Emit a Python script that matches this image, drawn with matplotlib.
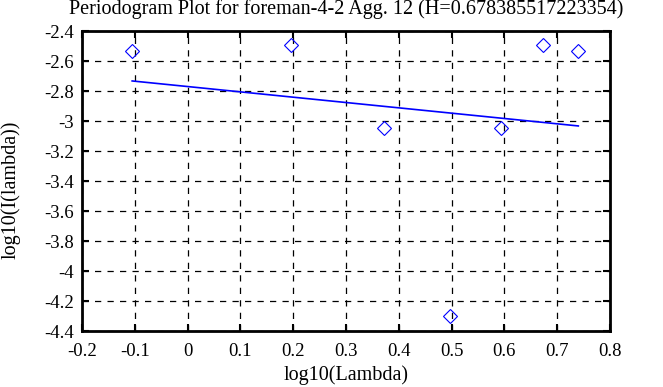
import matplotlib
matplotlib.use("Agg")
import matplotlib.pyplot as plt
from matplotlib.ticker import FuncFormatter, MultipleLocator

plt.rcParams['font.family'] = ['Liberation Serif', 'DejaVu Serif']
plt.rcParams['axes.unicode_minus'] = False

title = "Periodogram Plot for foreman-4-2 Agg. 12 (H=0.678385517223354)"
log_lambda = [-0.105, 0.196, 0.372, 0.497, 0.594, 0.673, 0.740]
log_I = [-2.533, -2.491, -3.045, -4.300, -3.045, -2.493, -2.533]
fit_x = [-0.105, 0.740]
fit_y = [-2.733, -3.033]

W, H = 663, 387
fig = plt.figure(figsize=(W/100, H/100), dpi=100)
ax = fig.add_axes([82/W, 1-331/H, (610-82)/W, 300/H])

ax.plot(log_lambda, log_I, linestyle='none', marker='D', markersize=7.5,
        markerfacecolor='none', markeredgecolor='blue', markeredgewidth=0.8)
ax.plot(fit_x, fit_y, color='blue', linewidth=1.2)

ax.set_xlim(-0.2, 0.8)
ax.set_ylim(-4.4, -2.4)
ax.xaxis.set_major_locator(MultipleLocator(0.1))
ax.yaxis.set_major_locator(MultipleLocator(0.2))
fmt = FuncFormatter(lambda v, p: ('%g' % round(v, 6)))
ax.xaxis.set_major_formatter(fmt)
ax.yaxis.set_major_formatter(fmt)
ax.grid(True, color='black', linestyle=(0, (5, 5)), linewidth=0.9)
ax.tick_params(direction='in', length=5, width=1.5, top=True, right=True,
               labelsize=13.5, colors='black')
ax.tick_params(axis='x', pad=8.5)
ax.tick_params(axis='y', pad=6)
for s in ax.spines.values():
    s.set_linewidth(2)

fig.text(346/W, 1-14/H, title, fontsize=14.5, ha='center', va='baseline')
fig.text(346/W, 1-380/H, 'log10(Lambda)', fontsize=14.5, ha='center', va='baseline')
fig.text(10.5/W, 1-190/H, 'log10(I(lambda))', fontsize=14.5, ha='center',
         va='center', rotation=90)

fig.savefig('out.png', dpi=100)
